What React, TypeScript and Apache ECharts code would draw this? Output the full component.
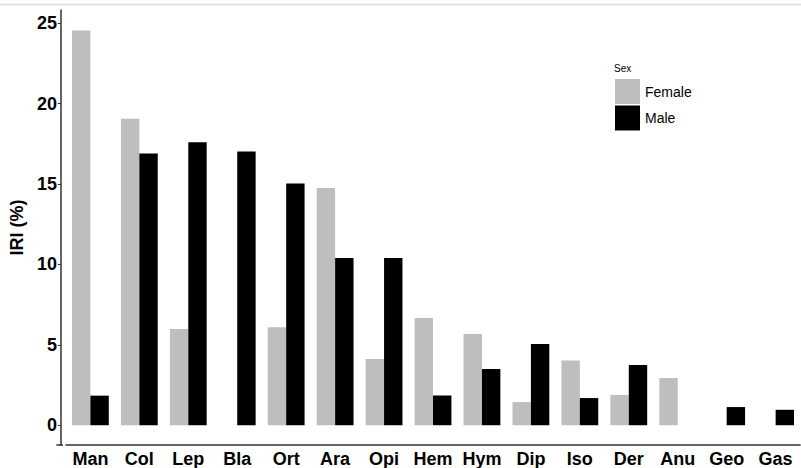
import React, { useEffect, useRef } from "react";
import * as echarts from "echarts";

const categories = ["Man", "Col", "Lep", "Bla", "Ort", "Ara", "Opi", "Hem", "Hym", "Dip", "Iso", "Der", "Anu", "Geo", "Gas"];
const femaleValues: (number | null)[] = [24.56, 19.06, 5.99, null, 6.09, 14.75, 4.12, 6.67, 5.67, 1.44, 4.03, 1.88, 2.94, null, null];
const maleValues: (number | null)[] = [1.84, 16.9, 17.61, 17.03, 15.03, 10.4, 10.4, 1.85, 3.5, 5.05, 1.69, 3.75, null, 1.13, 0.96];
const yTicks = [0, 5, 10, 15, 20, 25];
const legendTitle = "Sex";
const yTitle = "IRI (%)";

const FONT = "'Liberation Sans', Arial, sans-serif";

export default function App() {
  const ref = useRef<HTMLDivElement>(null);
  useEffect(() => {
    if (!ref.current) return;
    const chart = echarts.init(ref.current, undefined, { renderer: "svg" });
    chart.setOption({
      animation: false,
      backgroundColor: "#ffffff",
      textStyle: { fontFamily: FONT },
      title: {
        text: legendTitle,
        left: 614,
        top: 63,
        padding: 0,
        textStyle: { fontSize: 10, fontWeight: "normal", color: "#000", fontFamily: FONT },
      },
      legend: {
        orient: "vertical",
        left: 615,
        top: 79,
        padding: 0,
        itemWidth: 25,
        itemHeight: 25,
        itemGap: 1.5,
        icon: "rect",
        textStyle: { fontSize: 14, color: "#000", fontFamily: FONT },
        data: ["Female", "Male"],
      },
      grid: { left: 62.1, right: 0.9, top: 10, bottom: 23 },
      xAxis: {
        type: "category",
        data: categories,
        axisLine: { onZero: false, lineStyle: { color: "#333", width: 1.5 } },
        axisTick: { alignWithLabel: true, interval: 0, length: 3, lineStyle: { color: "#333" } },
        axisLabel: { interval: 0, margin: 5, fontSize: 18, fontWeight: "bold", color: "#000", fontFamily: FONT },
        splitLine: { show: false },
      },
      yAxis: {
        type: "value",
        min: -1.23,
        max: 25.83,
        offset: 5,
        name: yTitle,
        nameLocation: "middle",
        nameGap: 24,
        nameTextStyle: { fontSize: 18, fontWeight: "bold", color: "#000", fontFamily: FONT },
        axisLine: { show: true, lineStyle: { color: "#333", width: 1.5 } },
        axisTick: { show: true, length: 3, customValues: yTicks, lineStyle: { color: "#333" } },
        axisLabel: { margin: 4, fontSize: 18, fontWeight: "bold", color: "#000", fontFamily: FONT, customValues: yTicks },
        splitLine: { show: false },
      },
      graphic: [
        { type: "line", shape: { x1: 0, y1: 4.5, x2: 801, y2: 4.5 }, style: { stroke: "#e2e2dd", lineWidth: 2 }, silent: true },
        { type: "line", shape: { x1: 56.3, y1: 445, x2: 63, y2: 445 }, style: { stroke: "#333", lineWidth: 1.5 }, silent: true },
      ],
      series: [
        {
          name: "Female",
          type: "bar",
          data: femaleValues,
          barWidth: 18.4,
          barGap: "0%",
          itemStyle: { color: "#bebebe" },
        },
        {
          name: "Male",
          type: "bar",
          data: maleValues,
          barWidth: 18.4,
          barGap: "0%",
          itemStyle: { color: "#000000" },
        },
      ],
    });
    return () => chart.dispose();
  }, []);
  return <div ref={ref} style={{ position: "fixed", left: 0, top: 0, width: 801, height: 468 }} />;
}
